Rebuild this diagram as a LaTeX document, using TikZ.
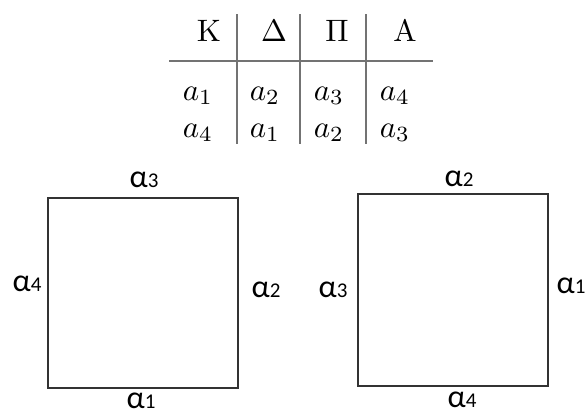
\documentclass[tikz,border=0pt]{standalone}
\usepackage{fontspec}
\newfontfamily\lblfont{Carlito}
\usetikzlibrary{calc}

\newcommand{\alab}[1]{{\lblfont\fontsize{32}{32}\selectfont α{\fontsize{21}{21}\selectfont #1}}}
\newcommand{\celltext}[1]{\scalebox{3.1}{#1}}

\begin{document}
\begin{tikzpicture}[x = 1pt, y = -1pt,
  cell/.style = {anchor = base, inner sep = 0},
  lbl/.style = {anchor = base, inner sep = 0},
  rule/.style = {draw = black!55, line width = 1.1pt},
  side/.style = {draw = black!80, line width = 1.6pt}]
  \useasboundingbox (0, 0) rectangle (588, 416);

  % table
  \node[cell] (hK) at (209, 41) {\celltext{K}};
  \node[cell] (hD) at (274, 41) {\celltext{$\Delta$}};
  \node[cell] (hP) at (337, 41) {\celltext{$\Pi$}};
  \node[cell] (hA) at (405, 41) {\celltext{A}};
  \foreach \x/\a/\b [count = \i] in {198/1/4, 265/2/1, 329/3/2, 395/4/3} {
    \node[cell] (r1c\i) at (\x, 100) {\celltext{$a_{\a}$}};
    \node[cell] (r2c\i) at (\x, 137) {\celltext{$a_{\b}$}};
  }
  \draw[rule] (169, 61) -- (433, 61);
  \foreach \x in {237, 300, 366}
    \draw[rule] (\x, 14) -- (\x, 144);

  % left square
  \coordinate (A1) at (48, 388);
  \coordinate (A2) at (238, 198);
  \draw[side] (A1) rectangle (A2);
  \node[lbl] (la3) at (144, 187) {\alab{3}};
  \node[lbl] (la4) at (27, 291) {\alab{4}};
  \node[lbl] (la2) at (266, 297) {\alab{2}};
  \node[lbl] (la1) at (141, 408) {\alab{1}};

  % right square
  \coordinate (B1) at (358, 386);
  \coordinate (B2) at (548, 194);
  \draw[side] (B1) rectangle (B2);
  \node[lbl] (lb2) at (459, 186) {\alab{2}};
  \node[lbl] (lb3) at (333, 297) {\alab{3}};
  \node[lbl] (lb1) at (571, 293) {\alab{1}};
  \node[lbl] (lb4) at (462, 407) {\alab{4}};
\end{tikzpicture}
\end{document}
